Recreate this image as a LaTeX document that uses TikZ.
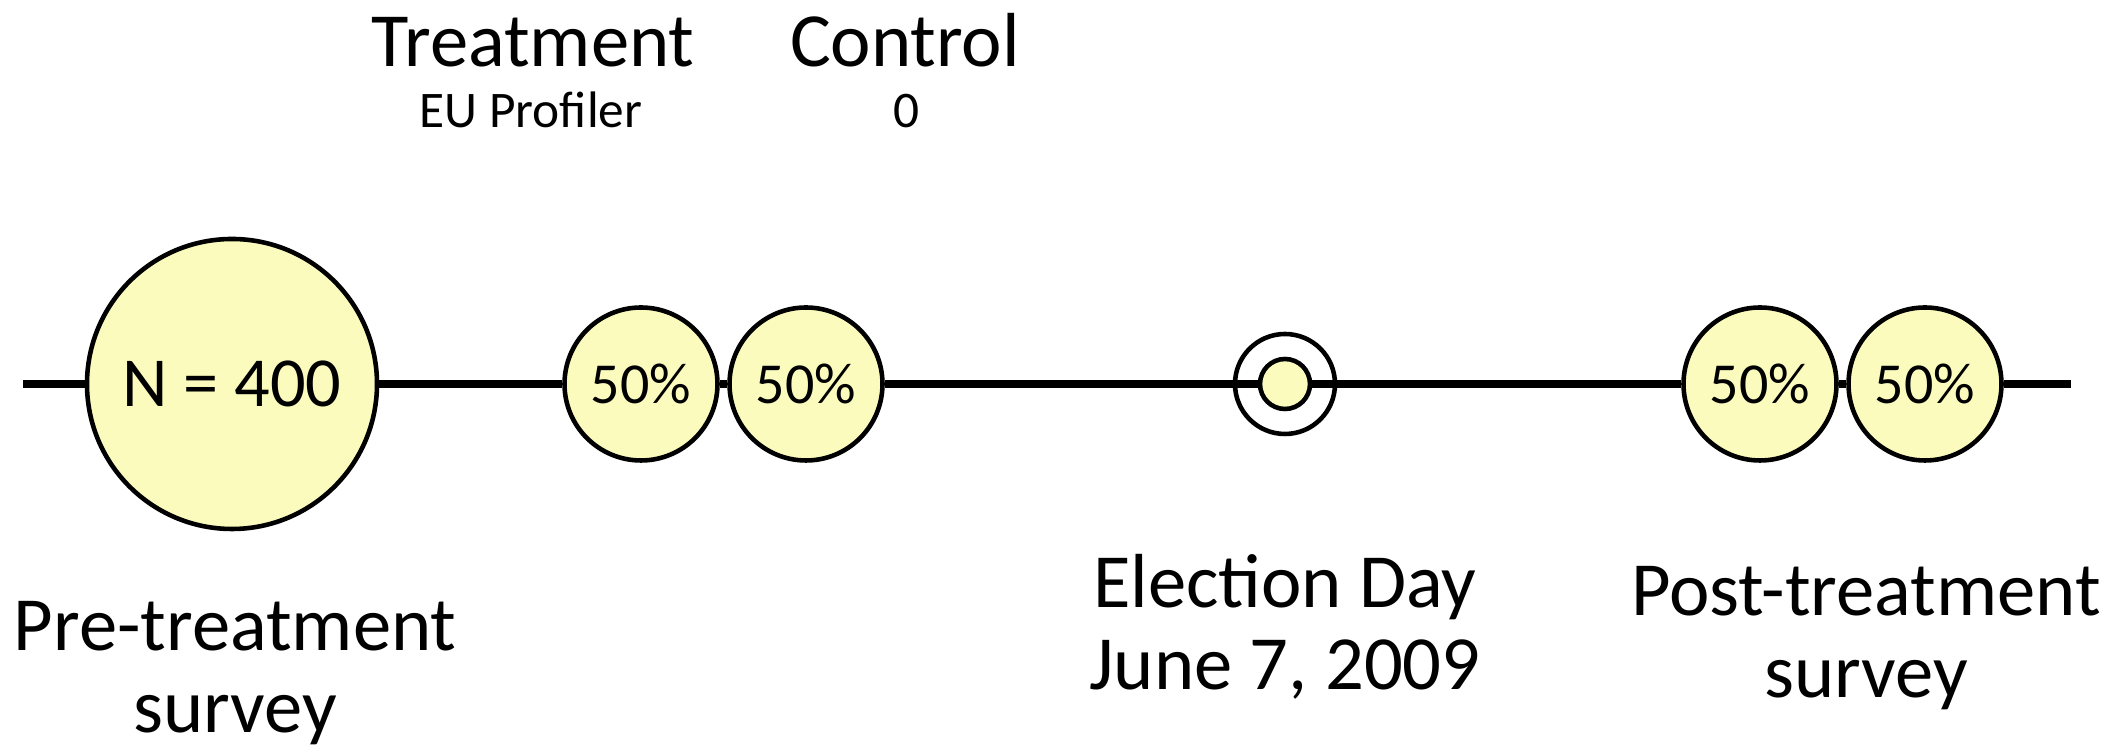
\documentclass[tikz,border=0pt]{standalone}
\usepackage{fontspec}
\setmainfont{Carlito}
\usetikzlibrary{positioning}

\definecolor{pale}{RGB}{251,251,189}

\begin{document}
\begin{tikzpicture}[
    timeline/.style={line width=2pt, black},
    blob/.style={circle, draw, line width=1.3pt, fill=pale, inner sep=0pt},
    bigblob/.style={blob, minimum size=2.9cm, font=\fontsize{20}{22}\selectfont},
    half/.style={blob, minimum size=1.53cm, font=\fontsize{16.5}{18}\selectfont},
    ring/.style={circle, draw, line width=1.3pt, inner sep=0pt, minimum size=1.0cm},
    big/.style={font=\fontsize{21.8}{23.6}\selectfont, anchor=base, align=center},
    small/.style={font=\fontsize{14.6}{16}\selectfont, anchor=base}
        ]

    \path [use as bounding box] (0,0) rectangle (21.18,7.54);

    \coordinate (start) at (0.23,3.70);
    \coordinate (end) at (20.71,3.70);

    \node [bigblob] (pre) at (2.32,3.70) {N = 400};
    \node [half] (treat) at (6.41,3.70) {50\%};
    \node [half] (ctrl) at (8.06,3.70) {50\%};
    \node [blob, minimum size=0.5cm] (eday) at (12.85,3.70) {};
    \node [half] (post1) at (17.60,3.70) {50\%};
    \node [half] (post2) at (19.25,3.70) {50\%};

    \draw [timeline] (start) -- (pre) -- (treat) -- (ctrl) -- (eday) -- (post1) -- (post2) -- (end);
    \node [ring] (ering) at (eday) {};

    % groups
    \node [big] (ttitle) at (5.33,6.87) {Treatment};
    \node [big] (ctitle) at (9.05,6.87) {Control};
    \node [small] (tsub) at (5.31,6.26) {EU Profiler};
    \node [small] (csub) at (9.06,6.26) {0};

    % labels below the line (base = last line)
    \node [big] (prelabel) at (2.35,0.21) {Pre-treatment\\survey};
    \node [big] (elabel) at (12.85,0.64) {Election Day\\June 7, 2009};
    \node [big] (postlabel) at (18.66,0.56) {Post-treatment\\survey};

\end{tikzpicture}
\end{document}
